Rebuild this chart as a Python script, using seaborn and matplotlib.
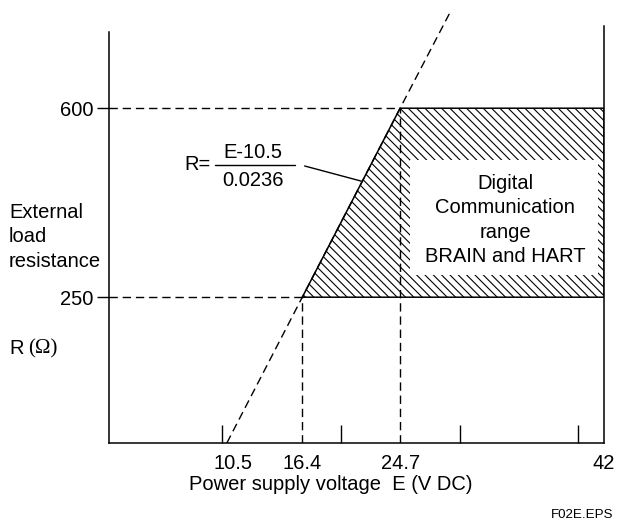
import matplotlib
matplotlib.use("Agg")
import matplotlib.pyplot as plt
import seaborn as sns
import pandas as pd
from matplotlib.patches import Rectangle

# values
x_ticks = [10.5, 16.4, 24.7, 42]
x_tick_labels = ["10.5", "16.4", "24.7", "42"]
x_minor = [9.6, 19.7, 29.8, 39.8]
y_ticks = [250, 600]
y_tick_labels = ["250", "600"]

# load line R = (E - 10.5) / 0.0236, read as points on the picture
line_E = [10.0, 16.4, 24.7, 29.0]
line_R = [-20, 250, 600, 780]

# hatched communication region
region_E = [16.4, 24.7, 42, 42]
region_R = [250, 600, 600, 250]

E_min, E_lo, E_hi, E_max = 0, 16.4, 24.7, 42
R_min, R_lo, R_hi, R_max = -20, 250, 600, 780

FS = 14.5

sns.set_theme(style="white")
plt.rcParams["font.family"] = ["Liberation Sans", "DejaVu Sans"]
plt.rcParams["text.color"] = "black"
plt.rcParams["hatch.linewidth"] = 0.8
plt.rcParams["hatch.color"] = "black"

W, H = 618, 528
fig = plt.figure(figsize=(W / 100, H / 100), dpi=100)
ax = fig.add_axes([109 / W, 1 - 443 / H, 495 / W, 432 / H])
ax.set_xlim(E_min, E_max)
ax.set_ylim(R_min, R_max)

dash = (6, 3.5)
lw = 1.0

# slope line (dashed)
df = pd.DataFrame({"E": line_E, "R": line_R})
sns.lineplot(data=df, x="E", y="R", ax=ax, color="black", lw=lw,
             dashes=False, linestyle=(0, dash), zorder=3)

# hatched region
ax.fill(region_E, region_R, facecolor="white", edgecolor="black",
        hatch="\\\\\\\\", lw=1.1, zorder=2)

# white box with the label
ax.add_patch(Rectangle((25.5, 291), 41.5 - 25.5, 504 - 291,
                       facecolor="white", edgecolor="none", zorder=4))
ax.text(33.6, 393, "Digital\nCommunication\nrange\nBRAIN and HART",
        ha="center", va="center", fontsize=FS, linespacing=1.36, zorder=5,
        color="black")

# guide lines
ax.plot([E_min, E_hi], [R_hi, R_hi], color="black", lw=lw, linestyle=(0, dash), zorder=3)
ax.plot([E_min, E_lo], [R_lo, R_lo], color="black", lw=lw, linestyle=(0, dash), zorder=3)
ax.plot([E_lo, E_lo], [R_min, R_lo], color="black", lw=lw, linestyle=(0, dash), zorder=3)
ax.plot([E_hi, E_hi], [R_min, R_hi], color="black", lw=lw, linestyle=(0, dash), zorder=3)

# formula with leader
ax.text(8.6, 495, "R=", ha="right", va="center", fontsize=FS, color="black")
ax.text(12.2, 518, "E-10.5", ha="center", va="center", fontsize=FS, color="black")
ax.text(12.2, 466, "0.0236", ha="center", va="center", fontsize=FS, color="black")
ax.plot([9.0, 15.8], [495, 495], color="black", lw=1.0)
ax.plot([16.6, 21.4], [493, 465], color="black", lw=1.0)

# axes
ax.spines["top"].set_visible(False)
for s in ["left", "bottom", "right"]:
    ax.spines[s].set_color("black")
    ax.spines[s].set_linewidth(1.1)
ax.spines["left"].set_bounds(R_min, 741)
ax.spines["right"].set_bounds(R_min, 752)

ax.set_xticks(x_ticks)
ax.set_xticklabels(x_tick_labels, fontsize=FS)
ax.set_xticks(x_minor, minor=True)
ax.tick_params(axis="x", which="major", length=0, pad=8, colors="black")
ax.tick_params(axis="x", which="minor", direction="in", length=13, width=1.0,
               bottom=True, colors="black")
ax.set_yticks(y_ticks)
ax.set_yticklabels(y_tick_labels, fontsize=FS)
ax.tick_params(axis="y", which="major", direction="out", length=8.5, width=1.0,
               pad=3, left=True, colors="black")

ax.set_xlabel("Power supply voltage  E (V DC)", fontsize=FS, va="top", color="black")
ax.xaxis.set_label_coords((331 - 109) / 495, -(475 - 443) / 432)
ax.set_ylabel("")

# left axis title
fig.text(9 / W, 1 - 237 / H, "External\nload\nresistance", ha="left", va="center",
         fontsize=FS, linespacing=1.38, color="black")
fig.text(9 / W, 1 - 349 / H, "R", ha="left", va="center", fontsize=FS, color="black")
fig.text(28 / W, 1 - 349 / H, "(\u03a9)", ha="left", va="center", fontsize=15,
         family=["Liberation Serif", "DejaVu Serif"], color="black")

fig.text(613 / W, 1 - 515 / H, "F02E.EPS", ha="right", va="center", fontsize=9.6,
         color="black")

fig.savefig("out.png", dpi=100)
